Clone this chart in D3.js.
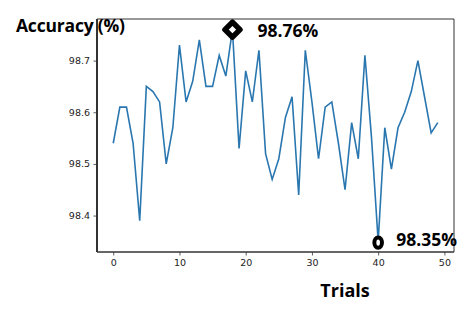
<!DOCTYPE html>
<html><head><meta charset="utf-8">
<script src="https://cdn.jsdelivr.net/npm/d3@7"></script>
<style>body{margin:0;background:#fff}svg{display:block}</style>
</head><body>
<svg id="c" width="462" height="310"></svg>
<script>
const trials = d3.range(50);
const accuracy = [98.54,98.61,98.61,98.54,98.39,98.65,98.64,98.62,98.50,98.57,
98.73,98.62,98.66,98.74,98.65,98.65,98.71,98.67,98.76,98.53,
98.68,98.62,98.72,98.52,98.47,98.51,98.59,98.63,98.44,98.72,
98.62,98.51,98.61,98.62,98.54,98.45,98.58,98.51,98.71,98.55,
98.35,98.57,98.49,98.57,98.60,98.64,98.70,98.63,98.56,98.58];
const xTicks = [0,10,20,30,40,50];
const yTicks = [98.4,98.5,98.6,98.7];
const maxIdx = 18, minIdx = 40;
const maxLabel = "98.76%", minLabel = "98.35%";
const xTitle = "Trials", yTitle = "Accuracy (%)";

const L=97,R=454,T=19,B=252;
const pad = 49*0.05, ext = d3.extent(accuracy), yp=(ext[1]-ext[0])*0.05;
const x = d3.scaleLinear().domain([-pad, 49+pad]).range([L,R]);
const y = d3.scaleLinear().domain([ext[0]-yp, ext[1]+yp]).range([B,T]);
const svg = d3.select("#c");

// line
svg.append("path").datum(trials)
  .attr("d", d3.line().x(i=>x(i)).y(i=>y(accuracy[i])))
  .attr("fill","none").attr("stroke","#2a77b0").attr("stroke-width",1.6);

// axes
const xa = svg.append("g").attr("transform",`translate(0,${B})`)
  .call(d3.axisBottom(x).tickValues(xTicks).tickSize(3.5).tickPadding(4).tickFormat(d3.format("d")));
const ya = svg.append("g").attr("transform",`translate(${L},0)`)
  .call(d3.axisLeft(y).tickValues(yTicks).tickSize(3.5).tickPadding(3.5).tickFormat(d3.format(".1f")));
[xa,ya].forEach(g=>{
  g.select(".domain").remove();
  g.selectAll("text").attr("font-family","DejaVu Sans").attr("font-size",9.5).attr("fill","#222");
  g.selectAll("line").attr("stroke","#333").attr("stroke-width",0.8);
});
// frame
svg.append("line").attr("x1",L).attr("x2",R).attr("y1",T).attr("y2",T).attr("stroke","#333").attr("stroke-width",1);
svg.append("line").attr("x1",R).attr("x2",R).attr("y1",T).attr("y2",B).attr("stroke","#333").attr("stroke-width",1);
svg.append("line").attr("x1",L).attr("x2",R).attr("y1",B).attr("y2",B).attr("stroke","#333").attr("stroke-width",1.6);
svg.append("line").attr("x1",L).attr("x2",L).attr("y1",T).attr("y2",B).attr("stroke","#333").attr("stroke-width",2);

// markers
const mx = x(maxIdx), my = y(accuracy[maxIdx]);
svg.append("path").attr("d",`M${mx},${my-7.5}L${mx+7.5},${my}L${mx},${my+7.5}L${mx-7.5},${my}Z`)
  .attr("fill","#fff").attr("stroke","#000").attr("stroke-width",5.5).attr("stroke-linejoin","round");
const nx = x(minIdx), ny = y(accuracy[minIdx]);
svg.append("ellipse").attr("cx",nx).attr("cy",ny+1.2).attr("rx",3.8).attr("ry",5.2)
  .attr("fill","#fff").attr("stroke","#000").attr("stroke-width",4);

const bold = s=>s.attr("font-family","Open Sans").attr("font-weight",700).attr("fill","#000");
bold(svg.append("text").attr("x",mx+25).attr("y",my+7).attr("font-size",17.5).text(maxLabel));
bold(svg.append("text").attr("x",nx+18).attr("y",ny+5).attr("font-size",17.5).text(minLabel));
bold(svg.append("text").attr("x",16).attr("y",32).attr("font-size",17.5).attr("letter-spacing",-0.2).text(yTitle));
bold(svg.append("text").attr("x",345).attr("y",297).attr("text-anchor","middle").attr("font-size",18).text(xTitle));
</script>
</body></html>
